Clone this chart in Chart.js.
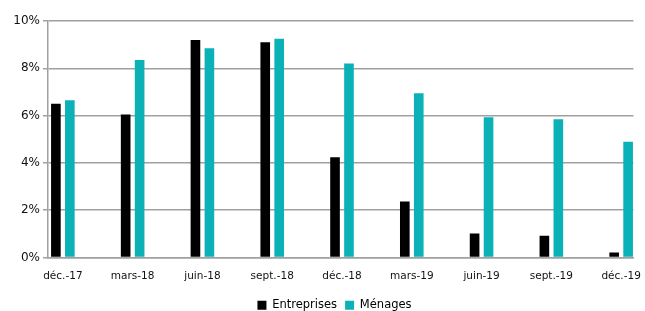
<!DOCTYPE html>
<html>
<head>
<meta charset="utf-8">
<script src="https://cdn.jsdelivr.net/npm/chart.js@4/dist/chart.umd.min.js"></script>
<style>
  html, body { margin: 0; padding: 0; background: #fff; }
  #wrap { width: 645px; height: 311px; }
</style>
</head>
<body>
<div id="wrap"><canvas id="myChart"></canvas></div>
<script>
const categories = ['déc.-17', 'mars-18', 'juin-18', 'sept.-18', 'déc.-18', 'mars-19', 'juin-19', 'sept.-19', 'déc.-19'];
const entreprises = [6.5, 6.05, 9.2, 9.1, 4.24, 2.37, 1.02, 0.92, 0.21];
const menages = [6.65, 8.35, 8.85, 9.25, 8.2, 6.95, 5.93, 5.85, 4.89];
const yTicks = [0, 2, 4, 6, 8, 10];

const font = 'DejaVu Sans, Verdana, sans-serif';

// legend sits a little right of centre in the original
const legendShift = {
  id: 'legendShift',
  afterLayout(chart) {
    chart.legend.left += 16;
    chart.legend.right += 16;
  }
};

const ctx = document.getElementById('myChart');

new Chart(ctx, {
  type: 'bar',
  data: {
    datasets: [{
      label: 'Entreprises',
      data: categories.map((c, i) => ({ x: i, y: entreprises[i] })),
      backgroundColor: '#000000',
      categoryPercentage: 0.4,
      barPercentage: 0.69
    }, {
      label: 'Ménages',
      data: categories.map((c, i) => ({ x: i, y: menages[i] })),
      backgroundColor: '#0ab1b7',
      categoryPercentage: 0.4,
      barPercentage: 0.69
    }]
  },
  plugins: [legendShift],
  options: {
    responsive: true,
    maintainAspectRatio: false,
    animation: false,
    layout: { padding: { top: 21, right: 8, left: 0, bottom: -10 } },
    plugins: {
      tooltip: { enabled: false },
      legend: {
        position: 'bottom',
        labels: {
          boxWidth: 9,
          boxHeight: 9,
          padding: 8,
          color: '#000',
          font: { family: font, size: 11.5 }
        }
      }
    },
    scales: {
      x: {
        type: 'linear',
        offset: false,
        min: -0.213,
        max: 8.177,
        afterFit: s => { s.height = 34; },
        grid: { display: false, offset: false },
        border: { display: true, color: '#a0a0a0', width: 1.5 },
        ticks: {
          stepSize: 1,
          includeBounds: false,
          autoSkip: false,
          maxRotation: 0,
          padding: 4,
          color: '#111',
          font: { family: font, size: 10.5 },
          callback: v => categories[v]
        }
      },
      y: {
        min: 0,
        max: 10,
        afterFit: s => { s.width = 48; },
        afterBuildTicks: s => { s.ticks = yTicks.map(v => ({ value: v })); },
        grid: { color: '#a0a0a0', lineWidth: 1.5, tickLength: 5 },
        border: { display: true, color: '#a0a0a0', width: 1.5 },
        ticks: {
          padding: 3,
          color: '#111',
          font: { family: font, size: 12 },
          callback: v => v + '%'
        }
      }
    }
  }
});
</script>
</body>
</html>
